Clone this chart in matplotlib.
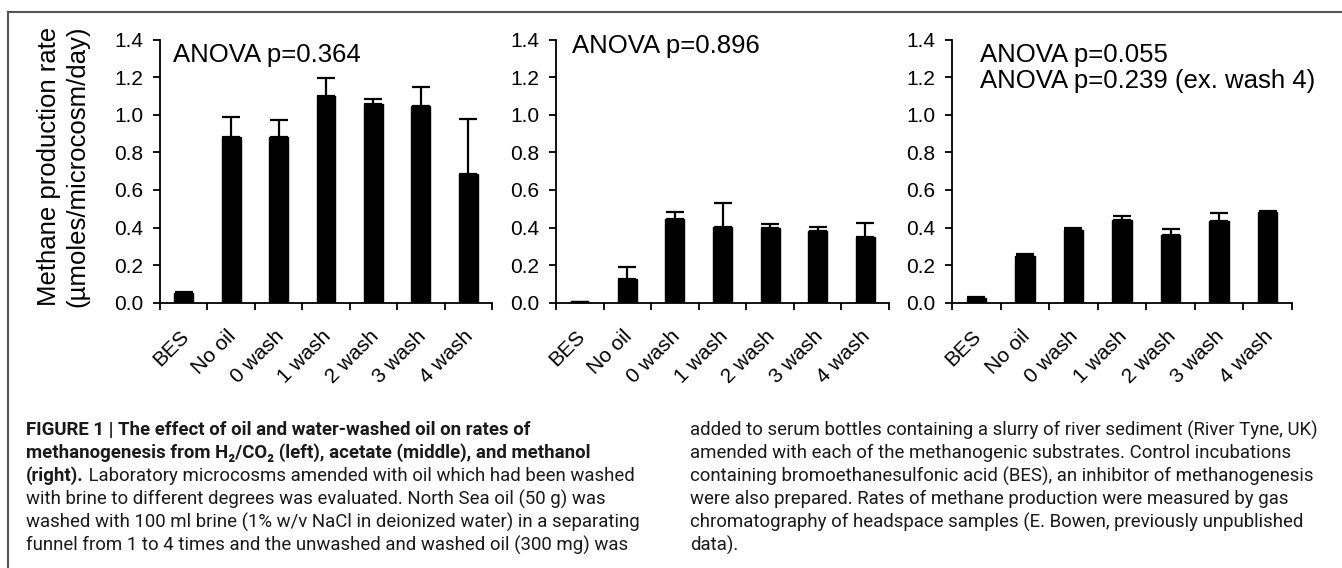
import matplotlib
matplotlib.use("Agg")
import matplotlib.pyplot as plt
from matplotlib.lines import Line2D

# ===== DATA =====
categories = ["BES", "No oil", "0 wash", "1 wash", "2 wash", "3 wash", "4 wash"]

h2co2_mean = [0.053, 0.88, 0.88, 1.10, 1.059, 1.047, 0.682]
h2co2_err = [0.003, 0.11, 0.09, 0.095, 0.027, 0.10, 0.295]

acetate_mean = [0.005, 0.126, 0.446, 0.402, 0.40, 0.384, 0.35]
acetate_err = [0.0, 0.064, 0.036, 0.128, 0.02, 0.02, 0.075]

methanol_mean = [0.027, 0.25, 0.389, 0.441, 0.362, 0.434, 0.482]
methanol_err = [0.004, 0.01, 0.006, 0.018, 0.032, 0.044, 0.005]

anova_texts = [
    ["ANOVA p=0.364"],
    ["ANOVA p=0.896"],
    ["ANOVA p=0.055", "ANOVA p=0.239 (ex. wash 4)"],
]

yticks = [0.0, 0.2, 0.4, 0.6, 0.8, 1.0, 1.2, 1.4]
ylabel = "Methane production rate\n(µmoles/microcosm/day)"

caption_left = [
    [("FIGURE 1 | The effect of oil and water-washed oil on rates of", "bold")],
    [("methanogenesis from H₂/CO₂ (left), acetate (middle), and methanol", "bold")],
    [("(right).", "bold"), (" Laboratory microcosms amended with oil which had been washed", "normal")],
    [("with brine to different degrees was evaluated. North Sea oil (50 g) was", "normal")],
    [("washed with 100 ml brine (1% w/v NaCl in deionized water) in a separating", "normal")],
    [("funnel from 1 to 4 times and the unwashed and washed oil (300 mg) was", "normal")],
]
caption_right = [
    "added to serum bottles containing a slurry of river sediment (River Tyne, UK)",
    "amended with each of the methanogenic substrates. Control incubations",
    "containing bromoethanesulfonic acid (BES), an inhibitor of methanogenesis",
    "were also prepared. Rates of methane production were measured by gas",
    "chromatography of headspace samples (E. Bowen, previously unpublished",
    "data).",
]

# ===== FONTS =====
plt.rcParams["font.family"] = ["Liberation Sans", "DejaVu Sans"]
cap_family = ["Roboto", "DejaVu Sans"]

W, H = 1342, 568
fig = plt.figure(figsize=(W / 100, H / 100), dpi=100)

# frame around the figure
fig.add_artist(Line2D([8 / W, 8 / W], [0, 1 - 12 / H], color="#555555", lw=1.5))
fig.add_artist(Line2D([8 / W, 1], [1 - 12 / H, 1 - 12 / H], color="#555555", lw=1.5))

# ===== PANELS =====
panels = [
    (160, 332, h2co2_mean, h2co2_err, (0.039, [0.9157])),
    (556, 333, acetate_mean, acetate_err, (0.047, [0.9476])),
    (952, 340, methanol_mean, methanol_err, (0.082, [0.9157, 0.8146])),
]
ax_bottom = (H - 302.7) / H
ax_height = (302.7 - 39.5) / H

x = list(range(len(categories)))
for i, (left, width, mean, err, (tx, tys)) in enumerate(panels):
    ax = fig.add_axes([left / W, ax_bottom, width / W, ax_height])
    ax.bar(x, mean, width=0.4, color="black", edgecolor="black", linewidth=1)
    ax.errorbar(x, mean, yerr=[[0] * len(err), err], fmt="none", ecolor="black",
                elinewidth=1.6, capsize=6.5, capthick=1.6)
    ax.set_xlim(-0.5, len(categories) - 0.5)
    ax.set_ylim(0, 1.4)
    ax.set_yticks(yticks)
    ax.set_yticklabels([f"{v:.1f}" for v in yticks], fontsize=15)
    # ticks sit between the bars, labels under the bars
    ax.set_xticks([k - 0.5 for k in range(len(categories) + 1)])
    ax.set_xticklabels([])
    ax.set_xticks([k - 0.1 for k in x], minor=True)
    ax.set_xticklabels(categories, minor=True, rotation=45, ha="right", va="top",
                       rotation_mode="anchor", fontsize=15)
    ax.tick_params(axis="x", which="minor", length=0, pad=17)
    ax.tick_params(axis="both", which="major", length=5, width=1.3, direction="out")
    ax.tick_params(axis="y", pad=7)
    for s in ["top", "right"]:
        ax.spines[s].set_visible(False)
    for s in ["left", "bottom"]:
        ax.spines[s].set_linewidth(1.3)
    for txt, ty in zip(anova_texts[i], tys):
        ax.text(tx, ty, txt, transform=ax.transAxes, fontsize=18.5, va="baseline", ha="left")

fig.text(63 / W, 1 - 166 / H, ylabel, rotation=90, ha="center", va="center",
         multialignment="center", fontsize=18.5, linespacing=1.2)

# ===== CAPTION =====
# fit the caption size so the longest left line spans the same width as in the figure
renderer = fig.canvas.get_renderer()
probe = fig.text(0, 0, caption_left[4][0][0], fontsize=10, family=cap_family)
probe_w = probe.get_window_extent(renderer).width
probe.remove()
cap_size = 10 * (642 - 26) / probe_w

line_h = 23
y0 = 430
for k, parts in enumerate(caption_left):
    y = 1 - (y0 + k * line_h) / H
    prev = None
    for txt, weight in parts:
        if prev is None:
            prev = fig.text(26 / W, y, txt, fontsize=cap_size, fontweight=weight,
                            family=cap_family, va="center", ha="left", color="#1a1a1a")
        else:
            # continue the line right after the bold lead-in
            prev = fig.axes[0].annotate(txt, xy=(1, 0), xycoords=prev, fontsize=cap_size,
                                        fontweight=weight, family=cap_family, color="#1a1a1a",
                                        va="bottom", ha="left", annotation_clip=False)

for k, txt in enumerate(caption_right):
    y = 1 - (y0 + k * line_h) / H
    fig.text(690 / W, y, txt, fontsize=cap_size, family=cap_family, color="#1a1a1a",
             va="center", ha="left")

fig.savefig("out.png", dpi=100)
